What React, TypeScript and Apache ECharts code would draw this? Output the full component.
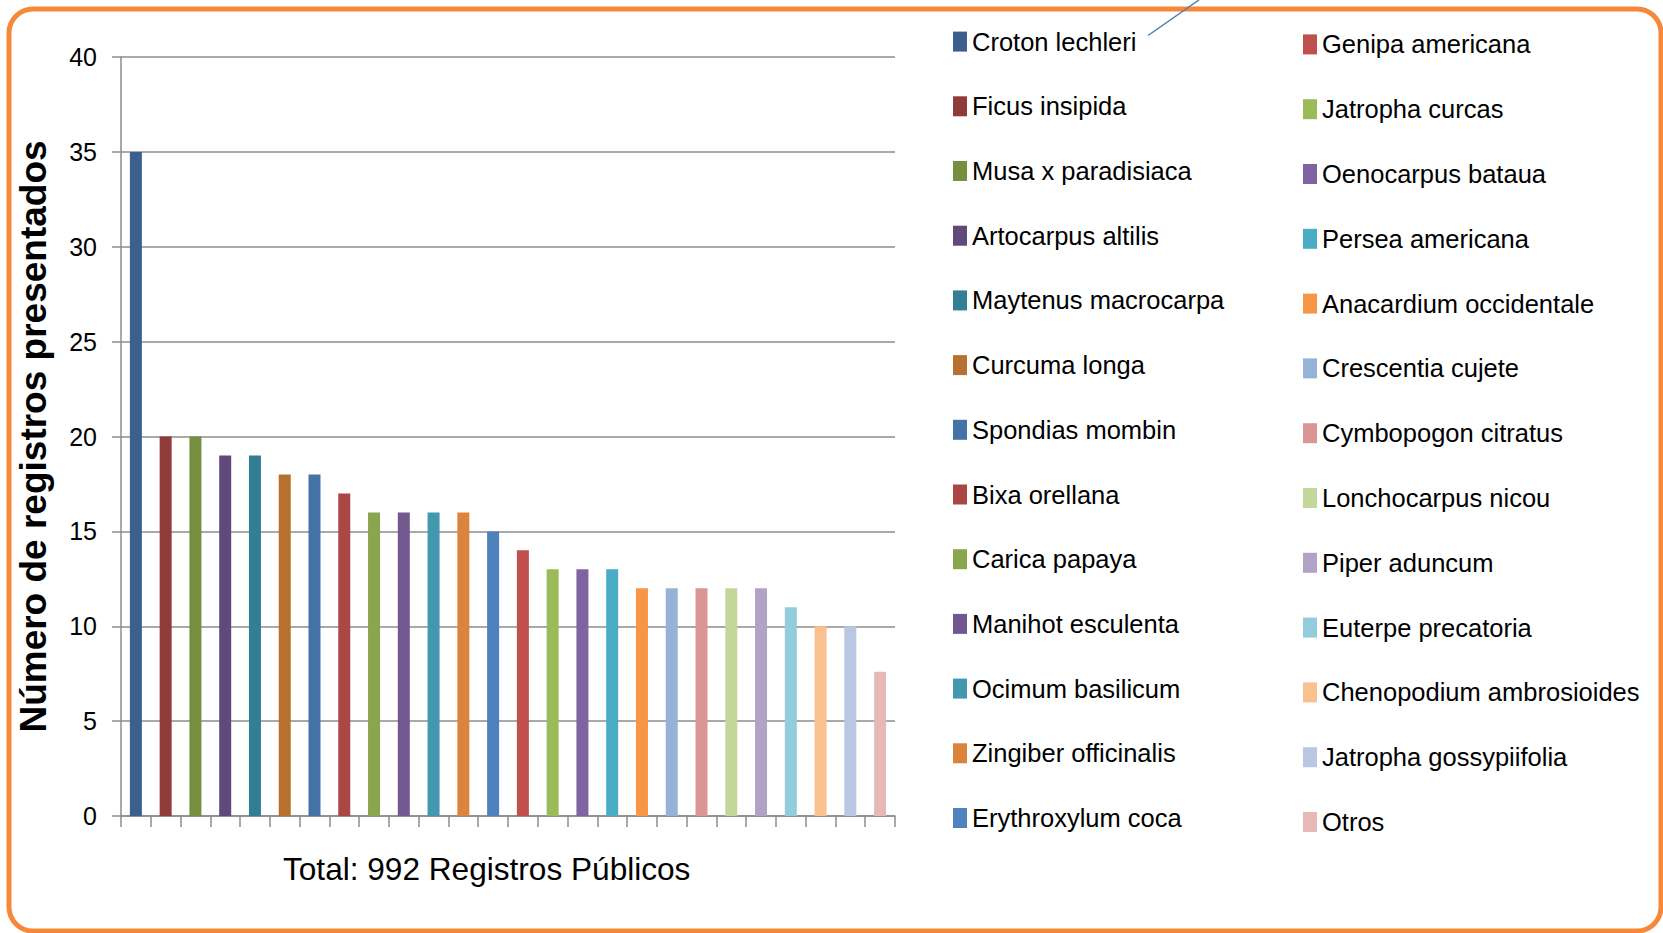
import React, { useEffect, useRef } from "react";
import * as echarts from "echarts";

const categories = [
  "Croton lechleri", "Ficus insipida", "Musa x paradisiaca", "Artocarpus altilis",
  "Maytenus macrocarpa", "Curcuma longa", "Spondias mombin", "Bixa orellana",
  "Carica papaya", "Manihot esculenta", "Ocimum basilicum", "Zingiber officinalis",
  "Erythroxylum coca", "Genipa americana", "Jatropha curcas", "Oenocarpus bataua",
  "Persea americana", "Anacardium occidentale", "Crescentia cujete", "Cymbopogon citratus",
  "Lonchocarpus nicou", "Piper aduncum", "Euterpe precatoria", "Chenopodium ambrosioides",
  "Jatropha gossypiifolia", "Otros",
];

const values = [35, 20, 20, 19, 19, 18, 18, 17, 16, 16, 16, 16, 15, 14, 13, 13, 13, 12, 12, 12, 12, 12, 11, 10, 10, 7.6];

const colors = [
  "#3C5F8E", "#8E3B39", "#758F3F", "#5F4A7A", "#327F95", "#B87031",
  "#4572A7", "#AA4643", "#89A54E", "#71588F", "#4198AF", "#DB843D",
  "#4F81BD", "#C0504D", "#9BBB59", "#8064A2", "#4BACC6", "#F79646",
  "#95B3D7", "#D99694", "#C3D69B", "#B3A2C7", "#93CDDD", "#FAC090",
  "#B9C7E2", "#E6B9B8",
];

const yTicks = { min: 0, max: 40, interval: 5 };
const yAxisTitle = "Número de registros presentados";
const xAxisTitle = "Total: 992 Registros Públicos";

const SANS = '"Liberation Sans", Arial, sans-serif';

export default function App() {
  const ref = useRef<HTMLDivElement>(null);

  useEffect(() => {
    document.body.style.margin = "0";
    if (!ref.current) return;
    const chart = echarts.init(ref.current, undefined, { renderer: "svg" });

    const series = categories.map((name, i) => ({
      type: "bar",
      name,
      stack: "all",
      barWidth: 12,
      itemStyle: { color: colors[i] },
      data: categories.map((_, j) => (j === i ? values[i] : "-")),
    }));

    const legendCommon = {
      orient: "vertical",
      icon: "rect",
      itemWidth: 14,
      itemHeight: 20,
      padding: 0,
      selectedMode: false,
      textStyle: { fontFamily: SANS, fontSize: 25.5, color: "#000" },
    };

    chart.setOption({
      animation: false,
      backgroundColor: "#fff",
      color: colors,
      title: {
        text: xAxisTitle,
        left: 283,
        top: 853,
        padding: 0,
        textStyle: { fontFamily: SANS, fontSize: 31.6, fontWeight: "normal", color: "#000" },
      },
      grid: { left: 121, top: 57, width: 774, height: 759, containLabel: false },
      legend: [
        { ...legendCommon, itemGap: 38.7, left: 953, top: 28.6, data: categories.slice(0, 13) },
        { ...legendCommon, itemGap: 38.8, left: 1303, top: 31.4, data: categories.slice(13) },
      ],
      xAxis: {
        type: "category",
        data: categories,
        boundaryGap: true,
        axisLine: { show: true, lineStyle: { color: "#8C8C8C", width: 1.5 } },
        axisTick: { show: true, interval: 0, length: 11, lineStyle: { color: "#8C8C8C", width: 1.5 } },
        axisLabel: { show: false },
        splitLine: { show: false },
      },
      yAxis: {
        type: "value",
        min: yTicks.min,
        max: yTicks.max,
        interval: yTicks.interval,
        name: yAxisTitle,
        nameLocation: "middle",
        nameGap: 69,
        nameTextStyle: { fontFamily: SANS, fontSize: 37, fontWeight: "bold", color: "#000" },
        axisLine: { show: true, lineStyle: { color: "#8C8C8C", width: 1.5 } },
        axisTick: { show: true, length: 9, lineStyle: { color: "#8C8C8C", width: 1.5 } },
        axisLabel: { margin: 24, fontFamily: SANS, fontSize: 25, color: "#000" },
        splitLine: { show: true, lineStyle: { color: "#8C8C8C", width: 1.5 } },
      },
      graphic: [
        {
          type: "rect",
          shape: { x: 9, y: 9, width: 1652, height: 922, r: 24 },
          style: { fill: "none", stroke: "#F7883A", lineWidth: 5 },
          silent: true,
        },
        {
          type: "line",
          shape: { x1: 1148, y1: 35.5, x2: 1199, y2: 0 },
          style: { stroke: "#4A7EBB", lineWidth: 1.5 },
          silent: true,
        },
      ],
      series,
    });

    return () => chart.dispose();
  }, []);

  return <div ref={ref} style={{ width: 1663, height: 933 }} />;
}
